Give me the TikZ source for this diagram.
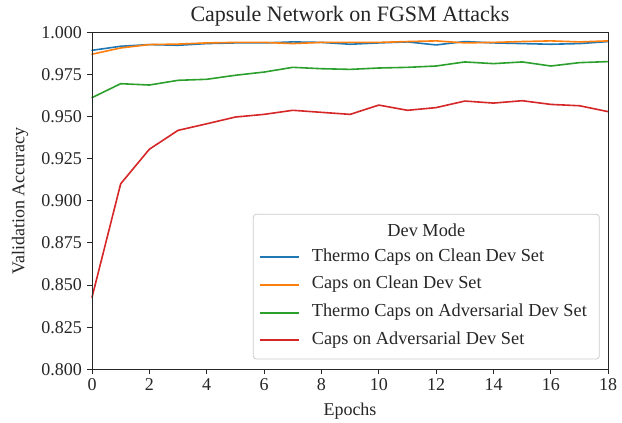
\documentclass[tikz,border=0pt]{standalone}
\usepackage{fontspec}
\setmainfont{Liberation Serif}
\definecolor{cblue}{HTML}{1F77B4}
\definecolor{corange}{HTML}{FF7F0E}
\definecolor{cgreen}{HTML}{2CA02C}
\definecolor{cred}{HTML}{D62728}
\definecolor{ctext}{HTML}{262626}
\tikzset{
  curve/.style={line width=1.6pt, line join=round, line cap=round},
  ticklab/.style={font=\fontsize{18}{20}\selectfont, text=ctext, inner sep=0pt},
  axisline/.style={line width=0.9pt, draw=ctext},
  tickmark/.style={line width=0.9pt, draw=ctext},
  legtext/.style={font=\fontsize{18.3}{20}\selectfont, text=ctext, anchor=west, inner sep=0pt},
}
\begin{document}
\begin{tikzpicture}
\useasboundingbox (0pt,0pt) rectangle (622pt,423pt);
\fill[white] (0pt,0pt) rectangle (622pt,423pt);
\begin{scope}[shift={(92pt,-1294.3pt)}, x=28.68pt, y=1685pt]
  % curves
  \draw[curve, cblue] plot coordinates {(0,0.9893) (1,0.9917) (2,0.9927) (3,0.9923) (4,0.9933) (5,0.9937) (6,0.9937) (7,0.9943) (8,0.9940) (9,0.9929) (10,0.9937) (11,0.9943) (12,0.9925) (13,0.9945) (14,0.9937) (15,0.9933) (16,0.9929) (17,0.9933) (18,0.9945)};
  \draw[curve, corange] plot coordinates {(0,0.9870) (1,0.9907) (2,0.9927) (3,0.9930) (4,0.9937) (5,0.9940) (6,0.9940) (7,0.9933) (8,0.9940) (9,0.9940) (10,0.9940) (11,0.9945) (12,0.9949) (13,0.9937) (14,0.9940) (15,0.9945) (16,0.9949) (17,0.9943) (18,0.9949)};
  \draw[curve, cgreen] plot coordinates {(0,0.9612) (1,0.9695) (2,0.9687) (3,0.9715) (4,0.9721) (5,0.9745) (6,0.9764) (7,0.9792) (8,0.9784) (9,0.9780) (10,0.9788) (11,0.9792) (12,0.9800) (13,0.9824) (14,0.9814) (15,0.9824) (16,0.9800) (17,0.9820) (18,0.9826)};
  \draw[curve, cred] plot coordinates {(0,0.8427) (1,0.9101) (2,0.9306) (3,0.9418) (4,0.9457) (5,0.9497) (6,0.9513) (7,0.9537) (8,0.9525) (9,0.9513) (10,0.9568) (11,0.9537) (12,0.9553) (13,0.9592) (14,0.9580) (15,0.9594) (16,0.9572) (17,0.9564) (18,0.9529)};
  % axes frame
  \draw[axisline] (0,0.8) rectangle (18,1.0);
  % x ticks
  \foreach \k in {0,2,...,18} {
    \draw[tickmark] (\k,0.8) -- ++(0,-5pt);
    \node[ticklab, anchor=north] (xt\k) at ([yshift=-9pt]\k,0.8) {\k};
  }
  % y ticks
  \foreach \v/\lab in {0.800/0.800,0.825/0.825,0.850/0.850,0.875/0.875,0.900/0.900,0.925/0.925,0.950/0.950,0.975/0.975,1.000/1.000} {
    \draw[tickmark] (0,\v) -- ++(-5pt,0);
    \node[ticklab, anchor=east] (yt\lab) at ([xshift=-10pt]0,\v) {\lab};
  }
  \coordinate (topmid) at (9,1.0);
  \coordinate (botmid) at (9,0.8);
  \coordinate (leftmid) at (0,0.9);
\end{scope}
% title and axis labels
\node[font=\fontsize{22}{24}\selectfont, text=ctext, anchor=base, inner sep=0pt] (title) at (350pt,401pt) {Capsule Network on FGSM Attacks};
\node[ticklab] (xlabel) at (350pt,12pt) {Epochs};
\node[ticklab, rotate=90] (ylabel) at (20pt,222.2pt) {Validation Accuracy};
% legend
\draw[draw=black!20, fill=white, fill opacity=0.8, rounded corners=3pt, line width=0.8pt] (253.3pt,64pt) rectangle (599.3pt,208.7pt);
\node[legtext, anchor=center] (legtitle) at (426.3pt,193pt) {Dev Mode};
\foreach \n/\c/\y/\t in {a/cblue/165.7/Thermo Caps on Clean Dev Set, b/corange/138/Caps on Clean Dev Set, c/cgreen/110/Thermo Caps on Adversarial Dev Set, d/cred/82.7/Caps on Adversarial Dev Set} {
  \coordinate (h\n1) at (260pt,\y pt);
  \coordinate (h\n2) at (299.3pt,\y pt);
  \draw[curve, \c, line cap=butt] (h\n1) -- (h\n2);
  \node[legtext] (l\n) at (311.7pt,\y pt) {\strut\t};
}
\end{tikzpicture}
\end{document}
